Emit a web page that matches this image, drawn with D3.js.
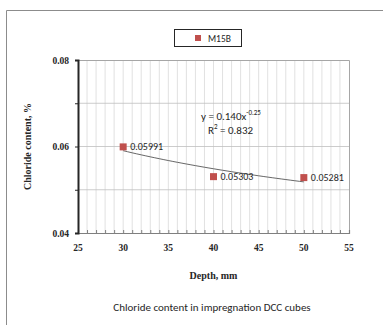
<!DOCTYPE html>
<html>
<head>
<meta charset="utf-8">
<script src="https://cdn.jsdelivr.net/npm/d3@7"></script>
<style>
  body { margin: 0; background: #fff; }
  svg { display: block; }
</style>
</head>
<body>
<svg width="383" height="325"></svg>
<script>
// data
const depths = [30, 40, 50];
const chloride = [0.05991, 0.05303, 0.05281];
const seriesName = "M15B";
const xTicks = [25, 30, 35, 40, 45, 50, 55];
const yLabels = [0.04, 0.06, 0.08];
const yTicks = [0.04, 0.05, 0.06, 0.07, 0.08];
const eqText = "y = 0.140x";
const eqExp = "-0.25";
const r2Text = "0.832";

const svg = d3.select("svg");
const W = 383, H = 325;
const plot = {left: 78, right: 349, top: 60, bottom: 233};
const sans = "Carlito, Calibri, 'Liberation Sans', Arial, sans-serif";
const serif = "'Liberation Serif', 'Times New Roman', serif";

const x = d3.scaleLinear().domain([25, 55]).range([plot.left, plot.right]);
const y = d3.scaleLinear().domain([0.04, 0.08]).range([plot.bottom, plot.top]);

// outer frame (only left and top edges visible)
svg.append("path")
    .attr("d", `M6.5,${H} L6.5,10.5 L${W},10.5`)
    .attr("fill", "none")
    .style("stroke", "#8c8c8c")
    .style("stroke-width", 1);

// vertical minor gridlines, every 1 mm
const minor = d3.range(26, 55, 1);
svg.append("g").selectAll("line")
    .data(minor).join("line")
    .attr("x1", d => x(d)).attr("x2", d => x(d))
    .attr("y1", plot.top).attr("y2", plot.bottom)
    .style("stroke", "#d9d9d9").style("stroke-width", 0.8);

// horizontal gridlines
svg.append("g").selectAll("line")
    .data(yTicks.slice(1, -1)).join("line")
    .attr("x1", plot.left).attr("x2", plot.right)
    .attr("y1", d => y(d)).attr("y2", d => y(d))
    .style("stroke", "#bfbfbf").style("stroke-width", 0.8);

// plot border top/right
svg.append("path")
    .attr("d", `M${plot.left},${plot.top + 0.5} L${plot.right + 0.5},${plot.top + 0.5} L${plot.right + 0.5},${plot.bottom}`)
    .attr("fill", "none")
    .style("stroke", "#a6a6a6").style("stroke-width", 1);

// x axis, ticks pointing up
const xAxis = d3.axisBottom(x).tickValues(d3.range(25, 56, 1)).tickSize(-3).tickFormat("");
const gx = svg.append("g").attr("transform", `translate(0,${plot.bottom})`).call(xAxis);
gx.select(".domain").style("stroke", "#7f7f7f").style("stroke-width", 1.2);
gx.selectAll(".tick line").style("stroke", "#7f7f7f");

svg.append("g").selectAll("text")
    .data(xTicks).join("text")
    .attr("x", d => x(d)).attr("y", plot.bottom + 18)
    .attr("text-anchor", "middle")
    .style("font-family", serif)
    .style("font-weight", "bold").style("font-size", "9.5px")
    .style("fill", "#262626")
    .text(d => d);

// y axis
const yAxis = d3.axisLeft(y).tickValues(yTicks).tickSize(3).tickFormat("");
const gy = svg.append("g").attr("transform", `translate(${plot.left},0)`).call(yAxis);
gy.select(".domain").style("stroke", "#262626").style("stroke-width", 2);
gy.selectAll(".tick line").style("stroke", "#262626");

svg.append("g").selectAll("text")
    .data(yLabels).join("text")
    .attr("x", plot.left - 9).attr("y", d => y(d) + 3.5)
    .attr("text-anchor", "end")
    .style("font-family", serif)
    .style("font-weight", "bold").style("font-size", "9.5px")
    .style("fill", "#262626")
    .text(d => d.toFixed(2));

// power trendline fitted from the points (log-log least squares)
const lx = depths.map(Math.log), ly = chloride.map(Math.log);
const mx = d3.mean(lx), my = d3.mean(ly);
const b = d3.sum(lx, (v, i) => (v - mx) * (ly[i] - my)) / d3.sum(lx, v => (v - mx) ** 2);
const a = Math.exp(my - b * mx);
const trend = d3.range(depths[0], depths[depths.length - 1] + 0.01, 0.5).map(d => [d, a * Math.pow(d, b)]);
svg.append("path")
    .datum(trend)
    .attr("d", d3.line().x(d => x(d[0])).y(d => y(d[1])))
    .attr("fill", "none")
    .style("stroke", "#404040").style("stroke-width", 0.8);

// markers
const pts = depths.map((d, i) => ({d: d, v: chloride[i]}));
svg.append("g").selectAll("rect")
    .data(pts).join("rect")
    .attr("x", p => x(p.d) - 3.5).attr("y", p => y(p.v) - 3.5)
    .attr("width", 7).attr("height", 7)
    .attr("fill", "#c0504d");

// data labels
svg.append("g").selectAll("text")
    .data(pts).join("text")
    .attr("x", p => x(p.d) + 7).attr("y", p => y(p.v) + 3.5)
    .style("font-family", sans)
    .style("font-size", "10px").style("fill", "#262626")
    .text(p => p.v.toFixed(5));

// equation
const eq = svg.append("text")
    .attr("x", 201).attr("y", 120)
    .style("font-family", sans)
    .style("font-size", "11px").style("fill", "#262626");
eq.append("tspan").text(eqText);
eq.append("tspan").attr("dy", -5).style("font-size", "7px").text(eqExp);

const r2 = svg.append("text")
    .attr("x", 208).attr("y", 134)
    .style("font-family", sans)
    .style("font-size", "11px").style("fill", "#262626");
r2.append("tspan").text("R");
r2.append("tspan").attr("dy", -5).style("font-size", "7px").text("2");
r2.append("tspan").attr("dy", 5).text(" = " + r2Text);

// legend
svg.append("rect")
    .attr("x", 174.5).attr("y", 29.5).attr("width", 67).attr("height", 17)
    .attr("fill", "#fff").style("stroke", "#262626").style("stroke-width", 1);
svg.append("rect")
    .attr("x", 195).attr("y", 35).attr("width", 6).attr("height", 6)
    .attr("fill", "#c0504d");
svg.append("text")
    .attr("x", 208).attr("y", 41.5)
    .style("font-family", sans)
    .style("font-size", "9.5px").style("fill", "#262626")
    .text(seriesName);

// axis titles
svg.append("text")
    .attr("x", (plot.left + plot.right) / 2).attr("y", 279)
    .attr("text-anchor", "middle")
    .style("font-family", serif)
    .style("font-weight", "bold").style("font-size", "10px")
    .style("fill", "#262626")
    .text("Depth, mm");

svg.append("text")
    .attr("transform", `translate(31,${(plot.top + plot.bottom) / 2}) rotate(-90)`)
    .attr("text-anchor", "middle")
    .style("font-family", serif)
    .style("font-weight", "bold").style("font-size", "10px")
    .style("fill", "#262626")
    .text("Chloride content, %");

// caption
svg.append("text")
    .attr("x", 212).attr("y", 311)
    .attr("text-anchor", "middle")
    .style("font-family", sans)
    .style("font-size", "11px").style("fill", "#262626")
    .text("Chloride content in impregnation DCC cubes");
</script>
</body>
</html>
